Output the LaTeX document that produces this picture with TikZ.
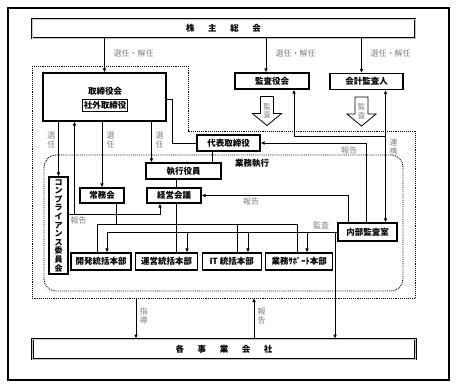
\documentclass[tikz,border=0pt]{standalone}
\usepackage{fontspec}
\setmainfont{Noto Sans CJK JP}
\usetikzlibrary{positioning, arrows.meta, backgrounds}

\begin{document}
\begin{tikzpicture}[
        x=1pt, y=-1pt,
        org_node/.style={draw, rectangle, line width=1.1pt, fill=white, minimum height=16pt, inner sep=1pt, align=center, font=\fontsize{8.5}{10}\selectfont\bfseries},
        hq_node/.style={org_node, minimum height=17pt},
        bar_node/.style={draw, rectangle, line width=0.7pt, double=gray!45, double distance=0.8pt, minimum width=383pt, minimum height=19pt, font=\fontsize{8.5}{10}\selectfont\bfseries},
        link/.style={line width=0.8pt},
        arrow/.style={link, -{Latex[length=4pt, width=3.6pt]}},
        bi_arrow/.style={link, {Latex[length=4pt, width=3.6pt]}-{Latex[length=4pt, width=3.6pt]}},
        edge_label/.style={text=black!50, inner sep=0.5pt, font=\fontsize{8}{8.6}\selectfont},
        vert_label/.style={edge_label, align=center},
        domain_line/.style={densely dotted, line width=0.9pt},
        block_arrow/.style={draw, fill=white, line width=0.8pt, line join=miter}
    ]
        \useasboundingbox (0,0) rectangle (457,388);
        \draw[line width=1.2pt] (8,8) rectangle (449,380);

        % Nodes
        \node (shareholders) [bar_node] at (223.5,28.5) {株\hspace{1.6em}主\hspace{1.6em}総\hspace{1.6em}会};
        \node (subsidiaries) [bar_node, minimum height=20pt] at (224,349) {各\hspace{1.6em}事\hspace{1.6em}業\hspace{1.6em}会\hspace{1.6em}社};
        \node (board) [org_node, minimum width=123pt, minimum height=48pt] at (104.5,97) {};
        \node (board_title) [font=\fontsize{8.5}{10}\selectfont\bfseries, inner sep=0pt] at (105,91) {取締役会};
        \node (outside_dir) [org_node, line width=0.6pt, minimum height=12pt, inner sep=1.5pt] at (105,105) {社外取締役};
        \node (audit_board) [org_node, minimum width=74pt] at (272,81) {監査役会};
        \node (accounting_auditor) [org_node, minimum width=73pt] at (366.5,81.5) {会計監査人};
        \node (rep_director) [org_node, minimum width=63pt] at (228.5,143) {代表取締役};
        \node (exec_officer) [org_node, minimum width=75pt] at (183.5,171) {執行役員};
        \node (mgmt_meeting) [org_node, minimum width=54pt, minimum height=15pt] at (174,195.5) {経営会議};
        \node (exec_committee) [org_node, minimum width=44pt, minimum height=15pt] at (102,195.5) {常務会};
        \node (compliance) [org_node, minimum width=19pt, minimum height=97pt, font=\fontsize{8}{8.6}\selectfont\bfseries] at (58.5,225.5) {コ\\ン\\プ\\ラ\\イ\\ア\\ン\\ス\\委\\員\\会};
        \node (internal_audit) [org_node, minimum width=59pt, minimum height=18pt] at (367.5,232) {内部監査室};
        \node (dev_hq) [hq_node, minimum width=60pt] at (101,261.5) {開発統括本部};
        \node (ops_hq) [hq_node, minimum width=62pt, right=3.5pt of dev_hq] {運営統括本部};
        \node (it_hq) [hq_node, minimum width=59pt, right=3.5pt of ops_hq] {IT 統括本部};
        \node (support_hq) [hq_node, minimum width=67pt, right=3.5pt of it_hq] {業務ｻﾎﾟｰﾄ本部};

        % Audit block arrows
        \foreach \b in {audit_board, accounting_auditor} {
            \draw[block_arrow] ([xshift=-5pt]\b.south) ++(-6.5,7) -- ++(13,0) -- ++(0,17) -- ++(8,0) -- ++(-14.5,12) -- ++(-14.5,-12) -- ++(8,0) -- cycle;
            \node (\b_audit) [vert_label, font=\fontsize{7.5}{8.5}\selectfont] at ([xshift=-5pt, yshift=-21pt]\b.south) {監\\査};
        }

        % Arrows
        \draw[arrow] (board.north |- shareholders.south) -- (board.north);
        \node (elect_board) [edge_label, anchor=west] at (113,53) {選任・解任};
        \draw[arrow] ([xshift=-6pt]audit_board.north |- shareholders.south) -- ([xshift=-6pt]audit_board.north);
        \node (elect_audit) [edge_label, anchor=west] at (275,53) {選任・解任};
        \draw[arrow] ([xshift=-5pt]accounting_auditor.north |- shareholders.south) -- ([xshift=-5pt]accounting_auditor.north);
        \node (elect_acct) [edge_label, anchor=west] at (370,53) {選任・解任};

        \draw[arrow] (compliance.north |- board.south) -- (compliance.north);
        \node (elect_comp) [vert_label, anchor=east] at (56,140) {選\\任};
        \draw[arrow] (exec_committee.north |- board.south) -- (exec_committee.north);
        \node (elect_comm) [vert_label, anchor=west] at (106,140) {選\\任};
        \draw[arrow] ([xshift=6pt]exec_officer.north west |- board.south) -- ([xshift=6pt]exec_officer.north west);
        \node (elect_exec) [vert_label, anchor=west] at (155,140) {選\\任};

        \draw[link] ([yshift=-2pt]board.east) -- ++(6,0) |- (rep_director.west);
        \draw[link] ([xshift=-16pt]rep_director.south) -- ([xshift=-16pt]rep_director.south |- exec_officer.north);
        \draw[link] ([xshift=2pt]mgmt_meeting.north |- exec_officer.south) -- ([xshift=2pt]mgmt_meeting.north);

        \coordinate (comp_report) at ([yshift=11.5pt]compliance.east);
        \draw[arrow] (comp_report) -| ([xshift=-14pt]mgmt_meeting.south);
        \draw[arrow] ([xshift=32pt]board.south west |- comp_report) -- ([xshift=32pt]board.south west);
        \node (comp_report_label) [edge_label, anchor=north west] at (70,216) {報告};

        \coordinate (comm_bus) at (97,224);
        \coordinate (comm_bus_end) at (297,224);
        \draw[link] ([xshift=14pt]exec_committee.south) -- ([xshift=14pt]exec_committee.south |- comm_bus);
        \draw[link] (comm_bus) -- (comm_bus_end);
        \draw[link] ([xshift=2pt]mgmt_meeting.south) -- ([xshift=2pt]mgmt_meeting.south |- ops_hq.north);
        \foreach \x/\n in {97/dev_hq, 237/it_hq, 297/support_hq}
            \draw[link] (\x,224) -- (\x,0 |- \n.north);

        \draw[link] (internal_audit.west) -- (107,0 |- internal_audit.west);
        \foreach \x/\n in {107/dev_hq, 187/ops_hq, 248/it_hq, 307/support_hq}
            \draw[arrow] (\x,0 |- internal_audit.west) -- (\x,0 |- \n.north);
        \draw[arrow] (335,0 |- internal_audit.west) -- (335,0 |- subsidiaries.north);
        \node (audit_label) [edge_label, anchor=south] at (321,230) {監査};

        \draw[arrow] ([xshift=-19.5pt]internal_audit.north) |- (mgmt_meeting.east);
        \node (report_mgmt) [edge_label, anchor=north] at (251,197) {報告};
        \draw[arrow] ([xshift=-1.5pt]internal_audit.north) |- (rep_director.east);
        \node (report_rep) [edge_label, anchor=north] at (349,146) {報告};

        \draw[bi_arrow] ([xshift=19pt]accounting_auditor.south) -- ([xshift=19pt]accounting_auditor.south |- internal_audit.north);
        \draw[arrow] ([xshift=19pt]accounting_auditor.south |- 0,136) -| ([xshift=22pt]audit_board.south);
        \node (coop_label) [vert_label, anchor=west] at (389,147) {連\\携};

        \coordinate (guide_start) at (136,298);
        \coordinate (report_end) at (254,298);
        \draw[arrow] (guide_start) -- (guide_start |- subsidiaries.north);
        \draw[arrow] (report_end |- subsidiaries.north) -- (report_end);
        \node (guide_label) [vert_label, anchor=west] at (139,316) {指\\導};
        \node (sub_report_label) [vert_label, anchor=west] at (257,316) {報\\告};

        % Groups
        \begin{scope}[on background layer]
            \draw[domain_line] (32,66) -- (188,66) -- (188,131) -- (415,131) -- (415,298) -- (32,298) -- cycle;
            \draw[domain_line, rounded corners=12pt] (44,155) rectangle (403,291);
            \node (exec_domain) [anchor=west, font=\fontsize{8.5}{10}\selectfont\bfseries, inner sep=0pt] at (235,163) {業務執行};
        \end{scope}
    \end{tikzpicture}
\end{document}
